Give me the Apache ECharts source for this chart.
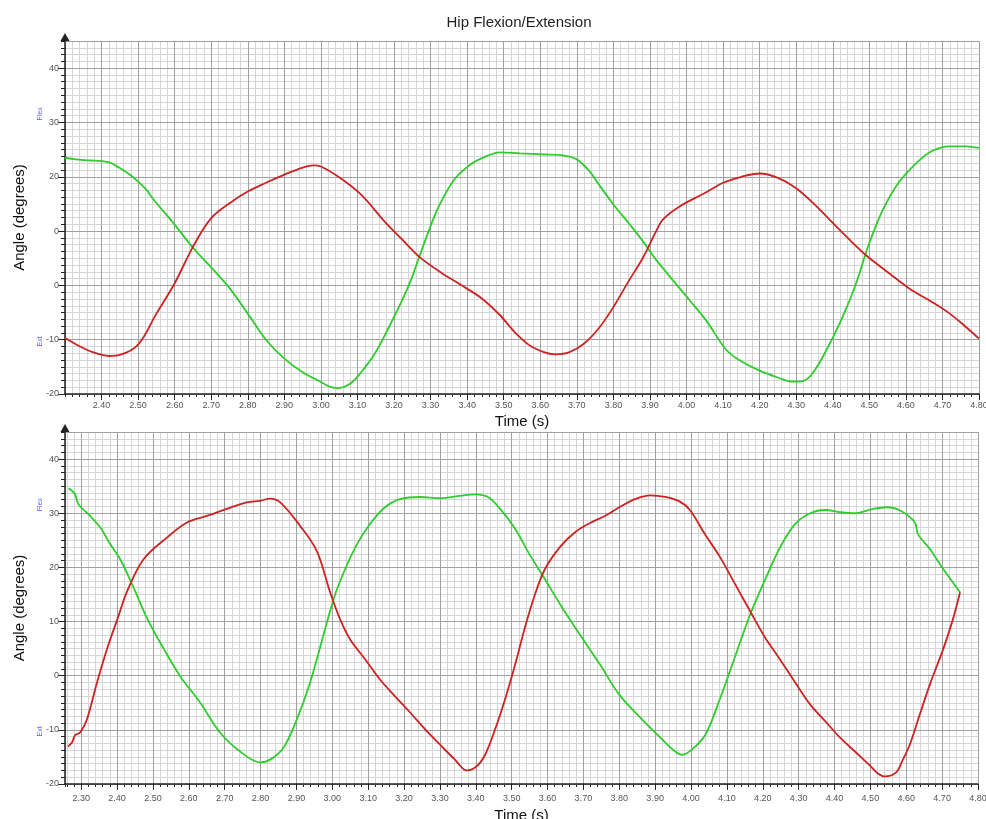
<!DOCTYPE html>
<html>
<head>
<meta charset="utf-8">
<script src="https://cdn.jsdelivr.net/npm/echarts@6/dist/echarts.min.js"></script>
<style>html,body{margin:0;padding:0;background:#fff}#c{width:986px;height:819px}</style>
</head>
<body>
<div id="c"></div>
<script>
const chartTitle = 'Hip Flexion/Extension';
const xAxisName = 'Time (s)';
const yAxisName = 'Angle (degrees)';
const topXRange = [2.30, 4.80];
const bottomXRange = [2.255, 4.80];
const yRange = [-20, 45];
const topYTickValues = [-20, -10, 0, 10, 20, 30, 40];
const topYTickLabels = ['-20', '-10', '0', '0', '20', '30', '40'];
const bottomYTickValues = [-20, -10, 0, 10, 20, 30, 40];
const bottomYTickLabels = ['-20', '-10', '0', '10', '20', '30', '40'];
const sideMarkers = [['Flex', 31.6], ['Ext', -10.3]];

const topRed = [[2.30,-9.7],[2.34,-11.2],[2.38,-12.4],[2.42,-13.0],[2.45,-12.8],[2.50,-10.9],[2.55,-5.2],[2.60,0.4],[2.65,7.1],[2.70,12.4],[2.76,15.6],[2.80,17.3],[2.85,18.9],[2.90,20.4],[2.95,21.7],[2.98,22.1],[3.00,21.9],[3.05,19.9],[3.11,16.7],[3.175,11.7],[3.22,8.6],[3.27,5.2],[3.33,2.3],[3.38,0.2],[3.44,-2.4],[3.49,-5.5],[3.53,-8.6],[3.57,-11.0],[3.61,-12.3],[3.64,-12.7],[3.68,-12.3],[3.72,-10.7],[3.76,-7.9],[3.80,-4.0],[3.84,0.6],[3.88,5.0],[3.917,10.0],[3.935,12.1],[3.98,14.5],[4.05,17.0],[4.10,18.9],[4.15,20.0],[4.20,20.6],[4.25,19.8],[4.30,17.9],[4.35,14.9],[4.41,10.8],[4.455,7.8],[4.49,5.6],[4.555,2.2],[4.61,-0.6],[4.67,-3.0],[4.72,-5.2],[4.765,-7.7],[4.80,-9.8]];
const topGreen = [[2.30,23.5],[2.33,23.2],[2.37,23.0],[2.40,22.9],[2.423,22.6],[2.45,21.6],[2.477,20.4],[2.50,19.1],[2.523,17.6],[2.541,15.9],[2.596,11.5],[2.653,6.7],[2.70,3.3],[2.751,-0.6],[2.80,-5.2],[2.851,-10.1],[2.90,-13.5],[2.95,-16.0],[3.00,-17.8],[3.025,-18.7],[3.045,-18.9],[3.08,-18.1],[3.11,-16.0],[3.148,-12.5],[3.189,-7.3],[3.216,-3.6],[3.244,0.6],[3.271,5.6],[3.298,10.6],[3.325,14.9],[3.365,19.5],[3.41,22.3],[3.45,23.7],[3.49,24.5],[3.545,24.3],[3.61,24.1],[3.665,23.9],[3.70,23.2],[3.735,21.0],[3.76,18.6],[3.80,14.9],[3.845,11.2],[3.88,8.2],[3.917,4.7],[4.008,-2.7],[4.053,-6.4],[4.108,-11.8],[4.145,-13.8],[4.20,-15.7],[4.255,-17.1],[4.285,-17.7],[4.31,-17.7],[4.34,-16.6],[4.382,-12.0],[4.427,-5.8],[4.464,0.4],[4.50,7.8],[4.537,13.9],[4.58,18.9],[4.63,22.6],[4.67,24.7],[4.72,25.6],[4.765,25.6],[4.80,25.3]];
const bottomRed = [[2.263,-13.1],[2.274,-12.4],[2.283,-11.0],[2.297,-10.5],[2.316,-8.1],[2.344,-1.3],[2.372,4.9],[2.404,11.0],[2.427,15.4],[2.474,21.5],[2.539,25.5],[2.595,28.3],[2.65,29.5],[2.706,30.8],[2.762,32.0],[2.799,32.3],[2.827,32.7],[2.855,32.0],[2.91,27.7],[2.957,23.0],[2.994,15.4],[3.022,10.4],[3.05,6.7],[3.092,3.0],[3.133,-0.7],[3.175,-3.8],[3.217,-6.8],[3.259,-9.9],[3.30,-12.7],[3.342,-15.5],[3.375,-17.5],[3.403,-16.7],[3.426,-14.6],[3.454,-9.9],[3.482,-4.3],[3.51,2.1],[3.537,8.9],[3.565,15.0],[3.593,19.7],[3.635,23.8],[3.677,26.5],[3.719,28.2],[3.76,29.5],[3.80,31.1],[3.844,32.6],[3.886,33.3],[3.928,33.0],[3.97,32.1],[3.997,30.6],[4.039,26.1],[4.081,21.9],[4.123,16.9],[4.165,11.9],[4.206,7.1],[4.248,3.0],[4.29,-1.2],[4.332,-5.3],[4.374,-8.4],[4.415,-11.4],[4.457,-14.0],[4.499,-16.6],[4.52,-18.0],[4.54,-18.6],[4.571,-17.9],[4.59,-15.6],[4.61,-12.7],[4.638,-7.1],[4.666,-1.6],[4.703,4.9],[4.73,10.4],[4.75,15.4]];
const bottomGreen = [[2.265,34.6],[2.283,33.5],[2.292,31.7],[2.325,29.5],[2.353,27.4],[2.381,24.3],[2.409,21.5],[2.446,16.3],[2.486,10.3],[2.53,5.0],[2.576,-0.1],[2.632,-5.0],[2.687,-10.5],[2.743,-14.0],[2.799,-16.0],[2.827,-15.5],[2.864,-13.3],[2.901,-8.1],[2.938,-1.3],[2.985,9.8],[3.008,15.0],[3.036,19.7],[3.069,24.3],[3.105,28.0],[3.147,31.1],[3.189,32.6],[3.245,33.0],[3.30,32.8],[3.356,33.2],[3.398,33.5],[3.434,33.0],[3.468,30.8],[3.51,27.1],[3.55,22.4],[3.593,17.8],[3.635,13.2],[3.69,7.6],[3.746,2.1],[3.80,-3.5],[3.858,-7.7],[3.914,-11.4],[3.956,-14.0],[3.975,-14.6],[4.003,-13.6],[4.04,-10.9],[4.08,-4.4],[4.12,3.0],[4.165,11.3],[4.207,17.8],[4.249,23.8],[4.29,28.0],[4.332,30.0],[4.374,30.6],[4.416,30.2],[4.457,30.0],[4.508,30.8],[4.545,31.1],[4.583,30.5],[4.624,28.3],[4.633,26.1],[4.666,23.4],[4.703,19.7],[4.75,15.4]];

const FONT = "'Liberation Sans', Arial, Helvetica, sans-serif";
const RED = '#cc2222';
const GREEN = '#2ecc2e';
const AXIS = '#222';
const MAJOR = '#a0a0a0';
const MINOR = '#d6d6d6';

function minorX(gi, range) {
  return { type: 'value', gridIndex: gi, position: 'bottom', min: range[0], max: range[1],
    minInterval: 0.02, maxInterval: 0.02, splitNumber: 100, z: 0,
    axisLine: { show: false, onZero: false }, axisLabel: { show: false },
    axisTick: { show: true, length: 3, lineStyle: { color: AXIS } },
    splitLine: { show: true, lineStyle: { color: MINOR, width: 1 } } };
}
function majorX(gi, range, gap, margin) {
  return { type: 'value', gridIndex: gi, position: 'bottom', min: range[0], max: range[1],
    minInterval: 0.1, maxInterval: 0.1, splitNumber: 25, z: 1,
    name: xAxisName, nameLocation: 'middle', nameGap: gap,
    nameTextStyle: { fontFamily: FONT, fontSize: 15, color: '#111' },
    axisLine: { show: true, onZero: false, lineStyle: { color: AXIS, width: 1.5 } },
    axisTick: { show: true, length: 6, lineStyle: { color: AXIS } },
    axisLabel: { showMinLabel: false, showMaxLabel: true, margin: margin, fontFamily: FONT, fontSize: 9, color: '#555',
      formatter: v => v.toFixed(2) },
    splitLine: { show: true, lineStyle: { color: MAJOR, width: 1 } } };
}
function minorY(gi) {
  return { type: 'value', gridIndex: gi, position: 'left', min: yRange[0], max: yRange[1],
    minInterval: 1.25, maxInterval: 1.25, splitNumber: 52, z: 0,
    axisLine: { show: false, onZero: false }, axisLabel: { show: false },
    axisTick: { show: true, length: 4, lineStyle: { color: AXIS } },
    splitLine: { show: true, lineStyle: { color: MINOR, width: 1 } } };
}
function majorY(gi, vals, labels) {
  return { type: 'value', gridIndex: gi, position: 'left', min: yRange[0], max: yRange[1],
    minInterval: 10, maxInterval: 10, splitNumber: 7, z: 1,
    name: yAxisName, nameLocation: 'middle', nameGap: 38, nameRotate: 90,
    nameTextStyle: { fontFamily: FONT, fontSize: 15, color: '#111' },
    axisLine: { show: true, onZero: false, symbol: ['none', 'triangle'], symbolSize: [9, 8], symbolOffset: [0, 4],
      lineStyle: { color: AXIS, width: 1.5 } },
    axisTick: { show: true, length: 7, lineStyle: { color: AXIS } },
    axisLabel: { showMaxLabel: false, margin: 6, fontFamily: FONT, fontSize: 9, color: '#555',
      formatter: v => { const i = vals.indexOf(Math.round(v)); return i >= 0 ? labels[i] : ''; } },
    splitLine: { show: true, lineStyle: { color: MAJOR, width: 1 } } };
}
function lineSeries(name, data, color, xi, yi) {
  return { name, type: 'line', xAxisIndex: xi, yAxisIndex: yi, data, showSymbol: false, symbol: 'none',
    smooth: 0.35, lineStyle: { color, width: 1.8 }, itemStyle: { color }, z: 3 };
}

const chart = echarts.init(document.getElementById('c'), null, { renderer: 'canvas' });
chart.setOption({
  animation: false,
  backgroundColor: '#fff',
  title: { text: chartTitle, left: 514, top: 10, textAlign: 'center',
    textStyle: { fontFamily: FONT, fontSize: 15, fontWeight: 'normal', color: '#222' } },
  grid: [
    { left: 65, top: 41, right: 7, height: 353, containLabel: false, outerBoundsMode: 'none' },
    { left: 65, top: 432, right: 8, height: 352, containLabel: false, outerBoundsMode: 'none' }
  ],
  xAxis: [ minorX(0, topXRange), majorX(0, topXRange, 20, 7), minorX(1, bottomXRange), majorX(1, bottomXRange, 24, 10) ],
  yAxis: [ minorY(0), majorY(0, topYTickValues, topYTickLabels), minorY(1), majorY(1, bottomYTickValues, bottomYTickLabels) ],
  series: [
    lineSeries('Top green', topGreen, GREEN, 1, 1),
    lineSeries('Top red', topRed, RED, 1, 1),
    lineSeries('Bottom green', bottomGreen, GREEN, 3, 3),
    lineSeries('Bottom red', bottomRed, RED, 3, 3)
  ]
});

const g = [];
[1, 3].forEach(yi => {
  sideMarkers.forEach(([txt, v]) => {
    const py = chart.convertToPixel({ yAxisIndex: yi }, v);
    g.push({ type: 'text', x: 40, y: py, rotation: Math.PI / 2,
      style: { text: txt, fill: '#5a5aff', font: '7px ' + FONT, align: 'center', verticalAlign: 'middle' } });
  });
});
chart.setOption({ graphic: g });
</script>
</body>
</html>
